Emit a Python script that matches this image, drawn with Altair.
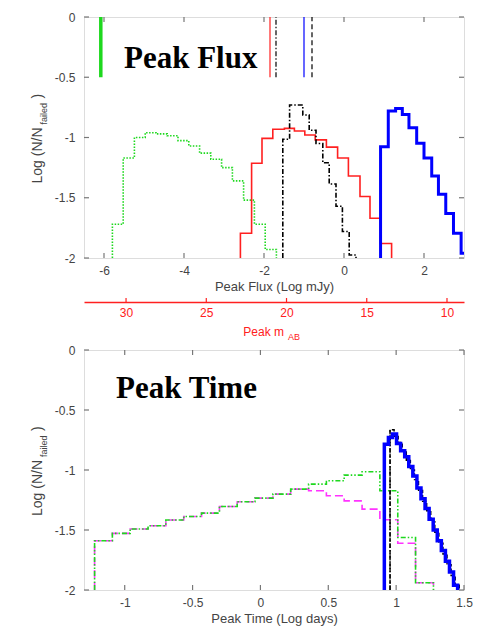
import altair as alt
import pandas as pd

# ---------------- Top panel: Peak Flux (log mJy) ----------------
flux_green_edges = [-5.79, -5.52, -5.24, -4.97, -4.70, -4.42, -4.15, -3.88,
                    -3.61, -3.33, -3.06, -2.79, -2.51, -2.24, -1.97, -1.69]
flux_green_vals = [-1.72, -1.17, -1.00, -0.96, -0.97, -0.985, -1.026, -1.07,
                   -1.13, -1.18, -1.25, -1.36, -1.52, -1.72, -1.93]

flux_red_edges = [-2.59, -2.31, -2.05, -1.78, -1.49, -1.24, -0.98, -0.72,
                  -0.44, -0.16, 0.11, 0.40, 0.65, 0.91, 1.19]
flux_red_vals = [-1.795, -1.214, -1.007, -0.932, -0.924, -0.946, -0.979, -1.02,
                 -1.08, -1.17, -1.32, -1.49, -1.67, -1.88]

flux_black_edges = [-1.53, -1.36, -1.20, -1.03, -0.87, -0.70, -0.53, -0.37,
                    -0.20, -0.04, 0.13, 0.30]
flux_black_vals = [-1.015, -0.73, -0.73, -0.813, -0.94, -1.05, -1.21, -1.386,
                   -1.57, -1.78, -1.975]

flux_blue_edges = [0.914, 1.107, 1.290, 1.458, 1.624, 1.817, 2.000, 2.193,
                   2.361, 2.544, 2.737, 2.928, 3.113]
flux_blue_vals = [-1.076, -0.78, -0.76, -0.81, -0.92, -1.048, -1.17, -1.32,
                  -1.47, -1.63, -1.795, -1.96]

# short vertical markers at the top of the flux panel (from 0 to -0.5)
marker_green = [-6.08]
marker_red = [-1.85]
marker_black_dashdot = [-1.70]
marker_blue = [-1.00]
marker_black_dash = [-0.80]
marker_top, marker_bottom = 0.0, -0.5

flux_ticks = [-6, -4, -2, 0, 2]
mag_ticks = [30, 25, 20, 15, 10]
logn_ticks = [0, -0.5, -1, -1.5, -2]

# ---------------- Bottom panel: Peak Time (log days) ----------------
time_edges = [-1.222, -1.091, -0.960, -0.828, -0.697, -0.565, -0.434, -0.302,
              -0.171, -0.040, 0.092, 0.223, 0.355, 0.486, 0.617, 0.749,
              0.880, 1.012, 1.143, 1.275]
time_magenta_vals = [-1.59, -1.528, -1.492, -1.465, -1.417, -1.387, -1.359, -1.304,
                     -1.265, -1.234, -1.201, -1.159, -1.173, -1.215, -1.257, -1.326,
                     -1.415, -1.61, -1.94]
time_green_vals = [-1.59, -1.528, -1.492, -1.465, -1.417, -1.387, -1.359, -1.304,
                   -1.265, -1.234, -1.201, -1.159, -1.118, -1.09, -1.043, -1.015,
                   -1.173, -1.562, -1.94]

time_blue_edges = [0.913, 0.943, 0.973, 1.003, 1.033, 1.063, 1.093, 1.123, 1.153,
                   1.183, 1.213, 1.243, 1.273, 1.303, 1.333, 1.363, 1.393, 1.423, 1.453]
time_blue_vals = [-0.785, -0.73, -0.70, -0.78, -0.84, -0.89, -0.97, -1.05, -1.15,
                  -1.24, -1.32, -1.41, -1.50, -1.59, -1.67, -1.76, -1.85, -1.96]

time_black_edges = [0.955, 0.985, 1.015, 1.045, 1.075, 1.105, 1.135, 1.165, 1.195,
                    1.225, 1.255, 1.285, 1.315, 1.345, 1.375, 1.405, 1.435, 1.465]
time_black_vals = [-0.665, -0.72, -0.77, -0.84, -0.92, -1.00, -1.08, -1.17, -1.26,
                   -1.34, -1.43, -1.52, -1.61, -1.70, -1.79, -1.88, -1.96]
time_black_spike = [0.955]
time_black_spike_top = -0.665

time_ticks = [-1, -0.5, 0, 0.5, 1, 1.5]

# ---------------- layout constants ----------------
W = 380
H_TOP = 241
H_BOT = 240
TICK = 5
GREY = "#444444"
FRAME = "#777777"
FONT = "Liberation Sans"
SERIF = "Liberation Serif"
RED = "#ff2020"
BLUE = "#0000ff"
GREEN = "#1ed81e"
MAGENTA = "#ff33ff"
BASE = -2.0


def step_frame(edges, vals):
    xs = [edges[0]] + list(edges[:-1]) + [edges[-1]]
    ys = [BASE] + list(vals) + [BASE]
    return pd.DataFrame({"x": xs, "y": ys, "o": list(range(len(xs)))})


def make_axes(xdomain, xticks, xtitle):
    xs = alt.Scale(domain=xdomain, nice=False, zero=False)
    ys = alt.Scale(domain=[-2, 0], nice=False, zero=False)
    xa = alt.Axis(values=xticks, ticks=False, domain=False, grid=False,
                  labelExpr="toString(datum.value)", labelFlush=False,
                  labelPadding=7, labelFontSize=12, labelColor=GREY, labelFont=FONT,
                  title=xtitle, titleFontSize=13, titleColor=GREY, titleFont=FONT,
                  titleFontWeight="normal", titlePadding=4)
    ya = alt.Axis(values=logn_ticks, ticks=False, domain=False, grid=False,
                  labelExpr="toString(datum.value)", labelPadding=9,
                  labelFontSize=12, labelColor=GREY, labelFont=FONT, title=None)
    return xs, ys, xa, ya


def hist_layer(df, xs, ys, xa, ya, color, width, dash=None):
    kw = dict(interpolate="step-after", color=color, strokeWidth=width, clip=True)
    if dash:
        kw["strokeDash"] = dash
    return alt.Chart(df).mark_line(**kw).encode(
        x=alt.X("x:Q", scale=xs, axis=xa),
        y=alt.Y("y:Q", scale=ys, axis=ya),
        order="o:Q",
    )


def tick_layers(xticks, xs, ys, xa, ya, h):
    tx = pd.DataFrame({"t": xticks})
    ty = pd.DataFrame({"t": logn_ticks})
    style = dict(color=FRAME, strokeWidth=1.2)
    return [
        alt.Chart(tx).mark_rule(**style).encode(
            x=alt.X("t:Q", scale=xs, axis=xa), y=alt.value(h), y2=alt.value(h - TICK)),
        alt.Chart(tx).mark_rule(**style).encode(
            x=alt.X("t:Q", scale=xs, axis=xa), y=alt.value(0), y2=alt.value(TICK)),
        alt.Chart(ty).mark_rule(**style).encode(
            y=alt.Y("t:Q", scale=ys, axis=ya), x=alt.value(0), x2=alt.value(TICK)),
        alt.Chart(ty).mark_rule(**style).encode(
            y=alt.Y("t:Q", scale=ys, axis=ya), x=alt.value(W), x2=alt.value(W - TICK)),
    ]


def ytitle_layers(h):
    src = pd.DataFrame({"a": [0]})
    mid = h / 2
    return [
        alt.Chart(src).mark_text(text="Log (N/N", angle=270, align="left",
                                 baseline="alphabetic", font=FONT, fontSize=14,
                                 color=GREY).encode(
            x=alt.value(-42), y=alt.value(mid + 46)),
        alt.Chart(src).mark_text(text="failed", angle=270, align="left",
                                 baseline="alphabetic", font=FONT, fontSize=9,
                                 color=GREY).encode(
            x=alt.value(-37), y=alt.value(mid - 13)),
        alt.Chart(src).mark_text(text=")", angle=270, align="left",
                                 baseline="alphabetic", font=FONT, fontSize=14,
                                 color=GREY).encode(
            x=alt.value(-42), y=alt.value(mid - 39)),
    ]


def big_title(text, x, y):
    return alt.Chart(pd.DataFrame({"a": [0]})).mark_text(
        text=text, align="left", baseline="alphabetic", font=SERIF,
        fontSize=31, fontWeight="bold", color="black").encode(
        x=alt.value(x), y=alt.value(y))


# ---------------- build top panel ----------------
xs1, ys1, xa1, ya1 = make_axes([-6.5, 3.0], flux_ticks, "Peak Flux (Log mJy)")

top_layers = []
top_layers.append(hist_layer(step_frame(flux_green_edges, flux_green_vals),
                             xs1, ys1, xa1, ya1, GREEN, 1.6, [1.5, 1.5]))
top_layers.append(hist_layer(step_frame(flux_red_edges, flux_red_vals),
                             xs1, ys1, xa1, ya1, RED, 1.6))
top_layers.append(hist_layer(step_frame(flux_black_edges, flux_black_vals),
                             xs1, ys1, xa1, ya1, "black", 1.6, [5, 2, 1.5, 2]))
top_layers.append(hist_layer(step_frame(flux_blue_edges, flux_blue_vals),
                             xs1, ys1, xa1, ya1, BLUE, 3))


def marker(vals, color, width, dash=None):
    df = pd.DataFrame({"x": vals, "y0": [marker_bottom] * len(vals),
                       "y1": [marker_top] * len(vals)})
    kw = dict(color=color, strokeWidth=width)
    if dash:
        kw["strokeDash"] = dash
    return alt.Chart(df).mark_rule(**kw).encode(
        x=alt.X("x:Q", scale=xs1, axis=xa1),
        y=alt.Y("y0:Q", scale=ys1, axis=ya1), y2="y1:Q")


top_layers += [
    marker(marker_green, GREEN, 3.5),
    marker(marker_red, RED, 1.2),
    marker(marker_black_dashdot, "black", 1.2, [5, 2, 1.5, 2]),
    marker(marker_blue, BLUE, 1.2),
    marker(marker_black_dash, "black", 1.2, [5, 3]),
]
top_layers += tick_layers(flux_ticks, xs1, ys1, xa1, ya1, H_TOP)
top_layers += ytitle_layers(H_TOP)
top_layers.append(big_title("Peak Flux", 40, 51))

top_inner = alt.layer(*top_layers)

# secondary magnitude axis (red)
mag_scale = alt.Scale(domain=[8.94, 32.62], reverse=True, nice=False, zero=False)
mag_axis = alt.Axis(orient="bottom", offset=44, values=mag_ticks, ticks=False,
                    domain=True, domainColor=RED, domainWidth=1.5, grid=False,
                    labelColor=RED, labelFontSize=12, labelFont=FONT, labelPadding=5,
                    labelFlush=False, title=None)
mag_df = pd.DataFrame({"m": mag_ticks})
mag_ticks_layer = alt.Chart(mag_df).mark_rule(color=RED, strokeWidth=1.2).encode(
    x=alt.X("m:Q", scale=mag_scale, axis=mag_axis),
    y=alt.value(H_TOP + 44), y2=alt.value(H_TOP + 40))
src = pd.DataFrame({"a": [0]})
mag_title1 = alt.Chart(src).mark_text(text="Peak m", align="right", baseline="alphabetic",
                                      font=FONT, fontSize=12, color=RED).encode(
    x=alt.value(200), y=alt.value(H_TOP + 78))
mag_title2 = alt.Chart(src).mark_text(text="AB", align="left", baseline="alphabetic",
                                      font=FONT, fontSize=9, color=RED).encode(
    x=alt.value(204), y=alt.value(H_TOP + 82))
mag_layer = alt.layer(mag_ticks_layer, mag_title1, mag_title2)

top = alt.layer(top_inner, mag_layer).resolve_scale(x="independent").properties(
    width=W, height=H_TOP)

# ---------------- build bottom panel ----------------
xs2, ys2, xa2, ya2 = make_axes([-1.3, 1.5], time_ticks, "Peak Time (Log days)")
bot_layers = []
bot_layers.append(hist_layer(step_frame(time_edges, time_magenta_vals),
                             xs2, ys2, xa2, ya2, MAGENTA, 1.6, [8, 4]))
bot_layers.append(hist_layer(step_frame(time_edges, time_green_vals),
                             xs2, ys2, xa2, ya2, GREEN, 1.6, [5, 2, 1.5, 2, 1.5, 2]))
bot_layers.append(hist_layer(step_frame(time_black_edges, time_black_vals),
                             xs2, ys2, xa2, ya2, "black", 1.4, [4, 2]))
spike_df = pd.DataFrame({"x": time_black_spike, "y0": [BASE],
                         "y1": [time_black_spike_top]})
bot_layers.append(alt.Chart(spike_df).mark_rule(
    color="black", strokeWidth=1.2, strokeDash=[5, 2, 1.5, 2]).encode(
    x=alt.X("x:Q", scale=xs2, axis=xa2),
    y=alt.Y("y0:Q", scale=ys2, axis=ya2), y2="y1:Q"))
bot_layers.append(hist_layer(step_frame(time_blue_edges, time_blue_vals),
                             xs2, ys2, xa2, ya2, BLUE, 3.5))
bot_layers += tick_layers(time_ticks, xs2, ys2, xa2, ya2, H_BOT)
bot_layers += ytitle_layers(H_BOT)
bot_layers.append(big_title("Peak Time", 32, 48))

bottom = alt.layer(*bot_layers).properties(width=W, height=H_BOT)

chart = alt.vconcat(top, bottom, spacing=0).properties(
    padding={"left": 22, "top": 2, "right": 5, "bottom": 2},
    background="white",
).configure_view(stroke=FRAME, strokeWidth=1.5).configure(font=FONT)

chart.save("out.html", embed_options={"renderer": "svg", "actions": False})
